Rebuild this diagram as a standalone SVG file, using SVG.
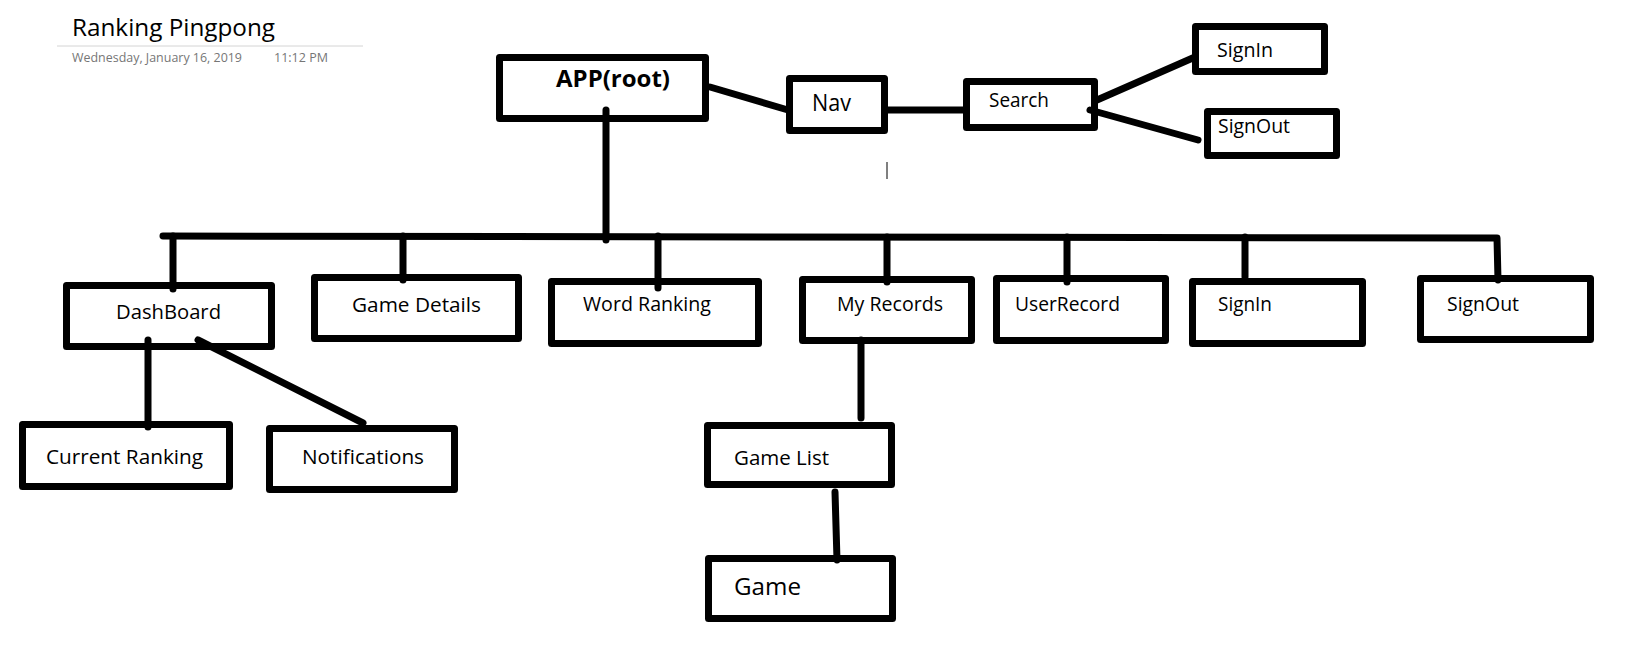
<svg xmlns="http://www.w3.org/2000/svg" width="1644" height="654" viewBox="0 0 1644 654">
<style>
.box{fill:#fff;stroke:#000;stroke-width:7;stroke-linejoin:round}
.lbl{font-family:"Open Sans","Noto Sans","Liberation Sans",sans-serif;font-size:20px;fill:#000}
.big{font-size:23px}
.bold{font-weight:700}
.con{fill:none;stroke:#000;stroke-width:7;stroke-linecap:round;stroke-linejoin:round}
.meta{font-family:"Open Sans","Noto Sans","Liberation Sans",sans-serif;font-size:12.5px;fill:#767676}
</style>
<rect x="0" y="0" width="1644" height="654" fill="#fff"/>
<g id="header">
<text x="72" y="36" font-family="Open Sans, Noto Sans, Liberation Sans, sans-serif" font-size="24" font-weight="400" fill="#000" textLength="203" lengthAdjust="spacingAndGlyphs">Ranking Pingpong</text>
<line x1="57" y1="46" x2="363" y2="46" stroke="#d4d4d4" stroke-width="1"/>
<text class="meta" x="72" y="62" textLength="170" lengthAdjust="spacingAndGlyphs">Wednesday, January 16, 2019</text>
<text class="meta" x="274" y="62" textLength="54" lengthAdjust="spacingAndGlyphs">11:12 PM</text>
</g>
<g id="node-app"><rect class="box" x="499.5" y="57.5" width="206" height="61"/><text class="lbl big bold" x="556" y="87" textLength="114" lengthAdjust="spacingAndGlyphs">APP(root)</text></g>
<g id="node-nav"><rect class="box" x="789.5" y="78.5" width="95" height="52"/><text class="lbl big" x="812" y="111" textLength="39" lengthAdjust="spacingAndGlyphs">Nav</text></g>
<g id="node-search"><rect class="box" x="966.5" y="81.5" width="128" height="46"/><text class="lbl" x="989" y="107" textLength="60" lengthAdjust="spacingAndGlyphs">Search</text></g>
<g id="node-signin-top"><rect class="box" x="1195.5" y="26.5" width="129" height="45"/><text class="lbl" x="1217" y="57" textLength="56" lengthAdjust="spacingAndGlyphs">SignIn</text></g>
<g id="node-signout-top"><rect class="box" x="1207.5" y="111.5" width="129" height="44"/><text class="lbl" x="1218" y="133" textLength="72" lengthAdjust="spacingAndGlyphs">SignOut</text></g>
<g id="node-dashboard"><rect class="box" x="66.5" y="285.5" width="205" height="61"/><text class="lbl" x="116" y="319" textLength="105" lengthAdjust="spacingAndGlyphs">DashBoard</text></g>
<g id="node-gamedetails"><rect class="box" x="314.5" y="277.5" width="204" height="61"/><text class="lbl" x="352" y="312" textLength="129" lengthAdjust="spacingAndGlyphs">Game Details</text></g>
<g id="node-wordranking"><rect class="box" x="551.5" y="281.5" width="207" height="62"/><text class="lbl" x="583" y="311" textLength="128" lengthAdjust="spacingAndGlyphs">Word Ranking</text></g>
<g id="node-myrecords"><rect class="box" x="802.5" y="279.5" width="169" height="61"/><text class="lbl" x="837" y="311" textLength="106" lengthAdjust="spacingAndGlyphs">My Records</text></g>
<g id="node-userrecord"><rect class="box" x="996.5" y="278.5" width="169" height="62"/><text class="lbl" x="1015" y="311" textLength="105" lengthAdjust="spacingAndGlyphs">UserRecord</text></g>
<g id="node-signin"><rect class="box" x="1192.5" y="281.5" width="170" height="62"/><text class="lbl" x="1218" y="311" textLength="54" lengthAdjust="spacingAndGlyphs">SignIn</text></g>
<g id="node-signout"><rect class="box" x="1420.5" y="278.5" width="170" height="61"/><text class="lbl" x="1447" y="311" textLength="72" lengthAdjust="spacingAndGlyphs">SignOut</text></g>
<g id="node-currentranking"><rect class="box" x="22.5" y="424.5" width="207" height="62"/><text class="lbl" x="46" y="464" textLength="157" lengthAdjust="spacingAndGlyphs">Current Ranking</text></g>
<g id="node-notifications"><rect class="box" x="269.5" y="428.5" width="185" height="61"/><text class="lbl" x="302" y="464" textLength="122" lengthAdjust="spacingAndGlyphs">Notifications</text></g>
<g id="node-gamelist"><rect class="box" x="707.5" y="425.5" width="184" height="59"/><text class="lbl" x="734" y="465" textLength="95" lengthAdjust="spacingAndGlyphs">Game List</text></g>
<g id="node-game"><rect class="box" x="708.5" y="558.5" width="184" height="60"/><text class="lbl big" x="734" y="595" textLength="67" lengthAdjust="spacingAndGlyphs">Game</text></g>
<g id="connectors">
<line class="con" x1="710" y1="87" x2="788" y2="110"/>
<line class="con" x1="887" y1="110" x2="965" y2="110"/>
<line class="con" x1="1097" y1="100" x2="1195" y2="57"/>
<line class="con" x1="1090" y1="110" x2="1198" y2="140"/>
<line class="con" x1="606" y1="110" x2="606" y2="240"/>
<polyline class="con" points="163,236 1497,238 1498,280"/>
<line class="con" x1="173" y1="236" x2="173" y2="289"/>
<line class="con" x1="403" y1="236" x2="403" y2="280"/>
<line class="con" x1="658" y1="236" x2="658" y2="288"/>
<line class="con" x1="887" y1="237" x2="887" y2="282"/>
<line class="con" x1="1067" y1="237" x2="1067" y2="282"/>
<line class="con" x1="1245" y1="237" x2="1245" y2="277"/>
<line class="con" x1="148" y1="340" x2="148" y2="427"/>
<line class="con" x1="198" y1="340" x2="363" y2="423"/>
<line class="con" x1="861" y1="340" x2="861" y2="418"/>
<line class="con" x1="835" y1="492" x2="837" y2="560"/>
</g>
<line x1="887" y1="162" x2="887" y2="179" stroke="#000" stroke-width="1"/>
</svg>
